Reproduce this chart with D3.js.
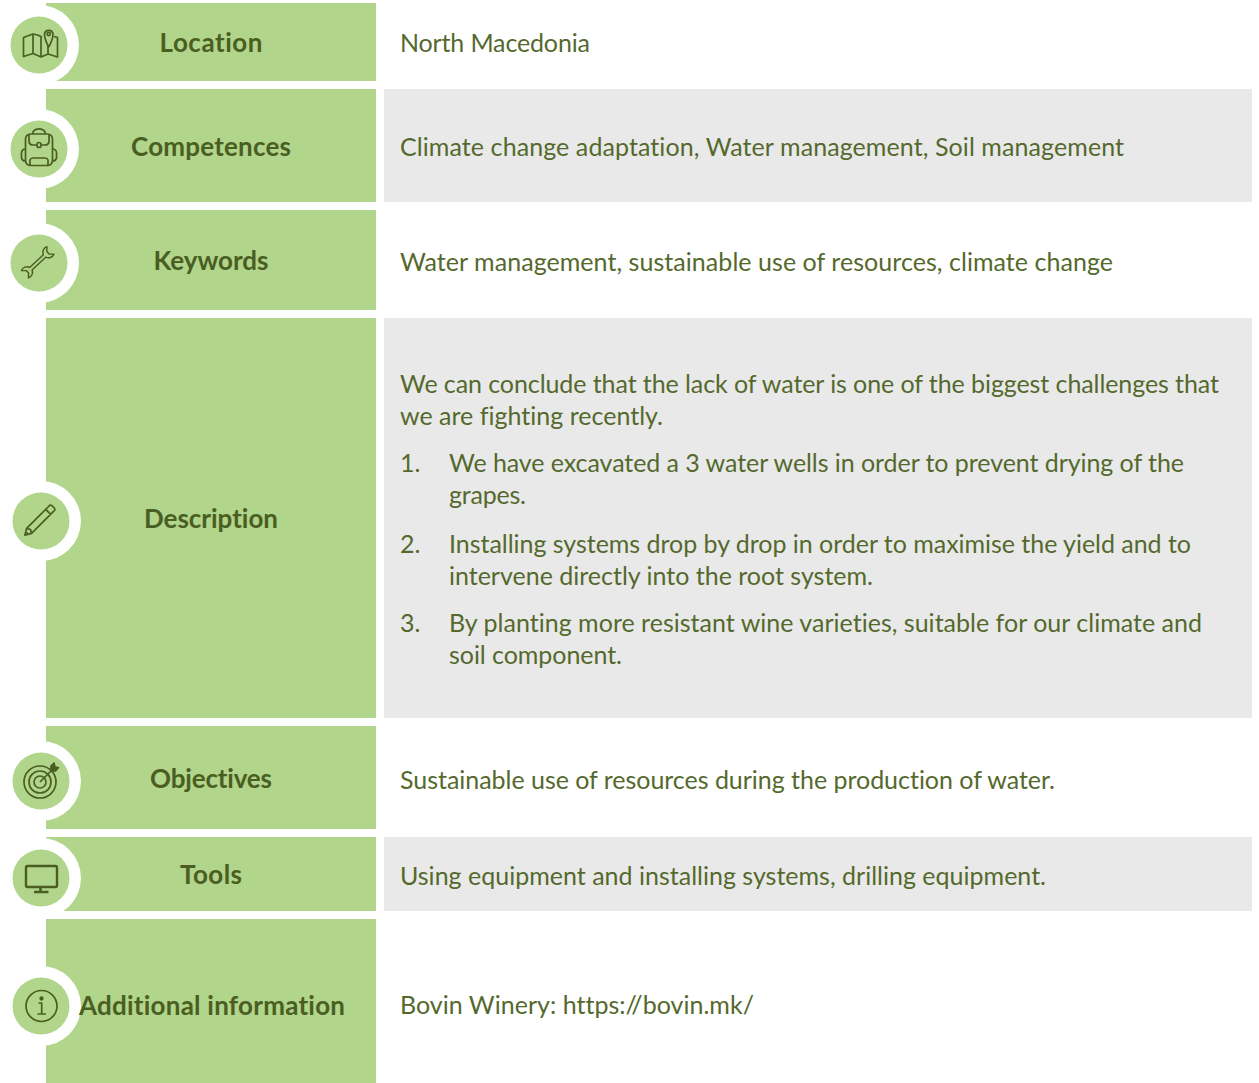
<!DOCTYPE html>
<html>
<head>
<meta charset="utf-8">
<script src="https://cdnjs.cloudflare.com/ajax/libs/d3/7.8.5/d3.min.js"></script>
<style>
  html, body { margin: 0; padding: 0; background: #fff; }
  svg { display: block; }
  text { font-family: Lato, "Open Sans", sans-serif; font-variant-ligatures: none; }
</style>
</head>
<body>
<svg id="chart"></svg>
<script>
const labels = ['Location', 'Competences', 'Keywords', 'Description', 'Objectives', 'Tools', 'Additional information'];
const details = [
  ['North Macedonia'],
  ['Climate change adaptation, Water management, Soil management'],
  ['Water management, sustainable use of resources, climate change'],
  ['We can conclude that the lack of water is one of the biggest challenges that', 'we are fighting recently.'],
  ['Sustainable use of resources during the production of water.'],
  ['Using equipment and installing systems, drilling equipment.'],
  ['Bovin Winery: https://bovin.mk/']
];
const listNumbers = ['1.', '2.', '3.'];
const listLines = [
  ['We have excavated a 3 water wells in order to prevent drying of the', 'grapes.'],
  ['Installing systems drop by drop in order to maximise the yield and to', 'intervene directly into the root system.'],
  ['By planting more resistant wine varieties, suitable for our climate and', 'soil component.']
];

const width = 1259, height = 1083;
const green = '#b0d58b', grey = '#e9e9e9', dark = '#4b5e22', bodyText = '#55692d';

// row edges, in page pixels
const rowTop = [3, 89, 210, 318, 726, 837, 919];
const rowBottom = [81, 202, 310, 718, 829, 911, 1083];
const labelBase = [51.5, 155.5, 269.5, 527.5, 787.5, 883.5, 1014.5];
const labelWidth = [103, 160, 115, 134, 122, 62, 266];
const detailBase = [52, 156, 271, 393, 789, 885, 1014];
const detailWidth = [[190], [724], [713], [819, 263], [655], [646], [354]];
const listBase = [472, 553, 632];
const listWidth = [[735, 77], [742, 424], [753, 173]];
const circleX = [39, 39, 39, 41, 41, 41, 41];
const circleY = [45, 149, 263, 521, 781, 878, 1006];

const x = d3.scaleLinear().domain([0, 1]).range([46, 376]);
const xDetail = d3.scaleLinear().domain([0, 1]).range([384, 1252]);

const svg = d3.select('#chart').attr('width', width).attr('height', height);

const rows = svg.selectAll('g.row').data(labels).enter().append('g').attr('class', 'row');

rows.append('rect')
  .attr('x', x(0))
  .attr('y', (d, i) => rowTop[i])
  .attr('width', x(1) - x(0))
  .attr('height', (d, i) => rowBottom[i] - rowTop[i])
  .attr('fill', green);

rows.filter((d, i) => i % 2 === 1).append('rect')
  .attr('x', xDetail(0))
  .attr('y', d => rowTop[labels.indexOf(d)])
  .attr('width', xDetail(1) - xDetail(0))
  .attr('height', d => rowBottom[labels.indexOf(d)] - rowTop[labels.indexOf(d)])
  .attr('fill', grey);

// white ring, then the green disc
rows.append('circle')
  .attr('cx', (d, i) => circleX[i]).attr('cy', (d, i) => circleY[i])
  .attr('r', 40).attr('fill', '#fff');
rows.append('circle')
  .attr('cx', (d, i) => circleX[i]).attr('cy', (d, i) => circleY[i])
  .attr('r', 28.5).attr('fill', green);

rows.append('text')
  .attr('x', (d, i) => i === 6 ? 212 : 211)
  .attr('y', (d, i) => labelBase[i])
  .attr('text-anchor', 'middle')
  .attr('font-size', 26)
  .attr('font-weight', 700)
  .attr('fill', dark)
  .attr('textLength', (d, i) => labelWidth[i])
  .text(d => d);

const bodySize = 25;
const lineStep = 32;

details.forEach((lines, i) => {
  svg.selectAll(null).data(lines).enter().append('text')
    .attr('x', 400)
    .attr('y', (d, j) => detailBase[i] + j * lineStep)
    .attr('font-size', bodySize)
    .attr('fill', bodyText)
    .attr('textLength', (d, j) => detailWidth[i][j])
    .text(d => d);
});

listNumbers.forEach((n, i) => {
  svg.append('text').attr('x', 400).attr('y', listBase[i])
    .attr('font-size', bodySize).attr('fill', bodyText).text(n);
  svg.selectAll(null).data(listLines[i]).enter().append('text')
    .attr('x', 449)
    .attr('y', (d, j) => listBase[i] + j * lineStep)
    .attr('font-size', bodySize)
    .attr('fill', bodyText)
    .attr('textLength', (d, j) => listWidth[i][j])
    .text(d => d);
});

// icons, drawn around each disc centre
const icon = i => svg.append('g')
  .attr('transform', `translate(${circleX[i]},${circleY[i]})`)
  .attr('fill', 'none')
  .attr('stroke', dark)
  .attr('stroke-width', 1.7)
  .attr('stroke-linejoin', 'round');

// map
const map = icon(0);
map.append('path').attr('d', 'M3,-8 L-1.5,-10 L-6,-11 L-15.5,-7.5 L-15.5,11.5 L-6,8.5 L2,12 L9,9 L18.5,12 L18.5,-7.5 L15,-8.5 M-6,-11 L-6,8.5 M2,-8 L2,12 M9,0 L9,9');
map.append('path').attr('d', 'M9.7,2 C7,-3 5.5,-7 5.5,-11 A4.3,4.3 0 0 1 14,-11 C14,-7 12.5,-3 9.7,2 Z').attr('fill', green);
map.append('circle').attr('cx', 9.7).attr('cy', -11).attr('r', 1.6);

// backpack
const pack = icon(1);
pack.append('rect').attr('x', -13.5).attr('y', -15).attr('width', 27).attr('height', 31.5).attr('rx', 5);
pack.append('path').attr('d', 'M-6,-15 L-6,-17 A6.5,5 0 0 1 6,-17 L6,-15');
pack.append('path').attr('d', 'M-10,-15 L-10,-7 A4,4 0 0 0 -6,-4 L-2,-4 M2,-4 L6,-4 A4,4 0 0 0 10,-7 L10,-15');
pack.append('rect').attr('x', -2).attr('y', -6.5).attr('width', 4).attr('height', 5).attr('rx', 2);
pack.append('path').attr('d', 'M-9,16.5 L-9,11 A3,3 0 0 1 -6,9 L6,9 A3,3 0 0 1 9,11 L9,16.5');
pack.append('path').attr('d', 'M-13.5,0 A4,4 0 0 0 -17.5,4 L-17.5,9 A4,4 0 0 0 -13.5,12 M13.5,0 A4,4 0 0 1 17.5,4 L17.5,9 A4,4 0 0 1 13.5,12');

// wrench
icon(2).append('path')
  .attr('transform', 'translate(-1,-1) rotate(-43) scale(0.85)')
  .attr('d', 'M-11.5,-2 L10.5,-2 A7,7 0 0 1 20,-6 L16,-2 L16,2 L20,6 A7,7 0 0 1 10.5,2 L-11.5,2 A7,7 0 0 1 -21,6 L-17,2 L-17,-2 L-21,-6 A7,7 0 0 1 -11.5,-2 Z');

// pencil
const pencil = icon(3);
pencil.append('path')
  .attr('transform', 'translate(-2,0) rotate(-45)')
  .attr('d', 'M-20,0 L-14,-3.5 L17,-3.5 A2.5,2.5 0 0 1 20,-2 L20,2 A2.5,2.5 0 0 1 17,3.5 L-14,3.5 Z M-14,-3.5 L-12,0 L-14,3.5 M13,-3.5 L13,3.5 M-17,-2 L-17,2');

// target
const target = icon(4);
[16, 11, 6].forEach(r => target.append('circle').attr('cx', -1).attr('cy', 1).attr('r', r));
target.append('path').attr('d', 'M-1,1 L12,-12 M10,-10 L10,-15 L13,-18 L14,-14 L17.5,-13.5 L14.5,-10 L10,-10').attr('fill', dark);

// monitor
const monitor = icon(5);
monitor.append('rect').attr('x', -15).attr('y', -12).attr('width', 31).attr('height', 21).attr('rx', 1.5).attr('stroke-width', 2.4);
monitor.append('path').attr('d', 'M-0.5,9 L-0.5,13 M-7,14 L7.5,14').attr('stroke-width', 2.6);

// info
const info = icon(6);
info.append('circle').attr('cx', 0.5).attr('cy', 0).attr('r', 15.5);
info.append('circle').attr('cx', 0.5).attr('cy', -7.5).attr('r', 1.3).attr('fill', dark);
info.append('path').attr('d', 'M-2.5,-3 L0.7,-3 L0.7,8 M-3.5,8 L5,8');
</script>
</body>
</html>
